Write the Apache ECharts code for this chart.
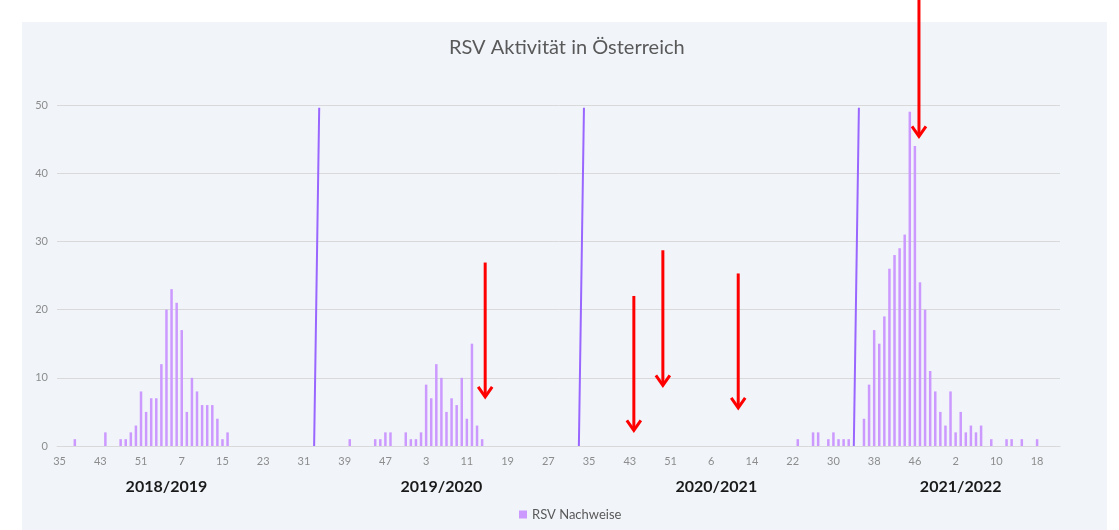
<!DOCTYPE html>
<html>
<head>
<meta charset="utf-8">
<title>RSV Aktivität in Österreich</title>
<script src="https://cdn.jsdelivr.net/npm/echarts@6/dist/echarts.min.js"></script>
<style>
  html, body { margin: 0; padding: 0; background: #fff; }
  #chart { width: 1119px; height: 530px; }
</style>
</head>
<body>
<div id="chart"></div>
<script>
// Kalenderwochen je Jahr
const weeks2018 = [35,36,37,38,39,40,41,42,43,44,45,46,47,48,49,50,51,52]
const weeks2019 = [1,2,3,4,5,6,7,8,9,10,11,12,13,14,15,16,17,18,19,20,21,22,23,24,25,26,
  27,28,29,30,31,32,33,34,35,36,37,38,39,40,41,42,43,44,45,46,47,48,49,50,51,52]
const weeks2020 = [1,2,3,4,5,6,7,8,9,10,11,12,13,14,15,16,17,18,19,20,21,22,23,24,25,26,
  27,28,29,30,31,32,33,34,35,36,37,38,39,40,41,42,43,44,45,46,47,48,49,50,51,52,53]
const weeks2021 = [1,2,3,4,5,6,7,8,9,10,11,12,13,14,15,16,17,18,19,20,21,22,23,24,25,26,
  27,28,29,30,31,32,33,34,35,36,37,38,39,40,41,42,43,44,45,46,47,48,49,50,51,52]
const weeks2022 = [1,2,3,4,5,6,7,8,9,10,11,12,13,14,15,16,17,18,19,20,21,22]

// RSV Nachweise pro Woche
const values2018 = [0,0,0,1,0,0,0,0,0,2,0,0,1,1,2,3,8,5]
const values2019 = [7,7,12,20,23,21,17,5,10,8,6,6,6,4,1,2,
  0,0,0,0,0,0,0,0,0,0,0,0,0,0,0,0,0,0,0,0,0,0,0,
  1,0,0,0,0,1,1,2,2,0,0,2,1]
const values2020 = [1,2,9,7,12,10,5,7,6,10,4,15,3,1,
  0,0,0,0,0,0,0,0,0,0,0,0,0,0,0,0,0,0,0,0,0,0,0,0,0,0,0,0,0,0,0,0,0,0,0,0,0,0,0]
const values2021 = [0,0,0,0,0,0,0,0,0,0,0,0,0,0,0,0,0,0,0,0,0,0,
  1,0,0,2,2,0,1,2,1,1,1,0,0,4,9,17,15,19,26,28,29,31,49,44,24,20,11,8,5,3]
const values2022 = [8,2,5,2,3,2,3,0,1,0,0,1,1,0,1,0,0,1,0,0,0,0]

// Saisongrenzen (Linie von 0 nach oben)
const seasonBreaks = [['2019-33', '2019-34'], ['2020-33', '2020-34'], ['2021-34', '2021-35']]
const breakTop = 49.6

const seasons = ['2018/2019', '2019/2020', '2020/2021', '2021/2022']
const seasonCenter = ['2019-4', '2020-6', '2021-7', '2022-3']

// rote Pfeile: Woche, Versatz, von, bis
const arrows = [
  ['2021-46', 0.8, 66, 45.4],
  ['2020-14', 0.6, 26.9, 7.2],
  ['2020-43', 0.8, 22.0, 2.3],
  ['2020-49', 0.5, 28.7, 8.9],
  ['2021-11', 0.3, 25.3, 5.6]
]

const years = [[2018, weeks2018], [2019, weeks2019], [2020, weeks2020], [2021, weeks2021], [2022, weeks2022]]
const categories = []
years.forEach(([y, ws]) => ws.forEach(w => categories.push(y + '-' + w)))
const values = [].concat(values2018, values2019, values2020, values2021, values2022)

const breakData = categories.map(c => {
  for (const [a, b] of seasonBreaks) {
    if (c === a) return 0
    if (c === b) return breakTop
  }
  return null
})

const font = 'Lato, "Open Sans", sans-serif'
const chart = echarts.init(document.getElementById('chart'))

chart.setOption({
  animation: false,
  textStyle: { fontFamily: font },
  title: {
    text: 'RSV Aktivität in Österreich',
    left: 444,
    top: 33,
    textStyle: { color: '#595959', fontSize: 20, fontWeight: 'normal', fontFamily: font }
  },
  legend: {
    data: ['RSV Nachweise'],
    left: 514,
    top: 503,
    icon: 'rect',
    itemWidth: 8,
    itemHeight: 8,
    itemGap: 4,
    textStyle: { color: '#595959', fontSize: 13, fontFamily: font }
  },
  grid: { left: 57, right: 59, top: 105, bottom: 84 },
  xAxis: {
    type: 'category',
    data: categories,
    axisTick: { show: false },
    axisLine: { lineStyle: { color: '#d9d9d9' } },
    axisLabel: {
      interval: 7,
      color: '#8c8c8c',
      fontSize: 11,
      margin: 10,
      formatter: v => v.split('-')[1]
    }
  },
  yAxis: {
    type: 'value',
    min: 0,
    max: 50,
    interval: 10,
    axisLine: { show: false },
    axisLabel: { color: '#8c8c8c', fontSize: 11, margin: 9 },
    splitLine: { lineStyle: { color: '#d9d9d9' } }
  },
  series: [
    {
      name: 'RSV Nachweise',
      type: 'bar',
      data: values,
      barWidth: 2.5,
      itemStyle: { color: '#CC99FF' }
    },
    {
      name: 'Saison',
      type: 'line',
      data: breakData,
      symbol: 'none',
      connectNulls: false,
      lineStyle: { color: '#9966FF', width: 2 },
      z: 3
    }
  ]
})

// Hintergrund, Saisonbeschriftung und Pfeile aus Datenkoordinaten
const px = c => chart.convertToPixel({ xAxisIndex: 0 }, categories.indexOf(c))
const py = v => chart.convertToPixel({ yAxisIndex: 0 }, v)
const band = chart.convertToPixel({ xAxisIndex: 0 }, 1) - chart.convertToPixel({ xAxisIndex: 0 }, 0)

const elements = [{
  type: 'rect',
  z: -10,
  silent: true,
  shape: { x: 22, y: 22, width: 1085, height: 508 },
  style: { fill: '#F1F5FA' }
}]

seasons.forEach((s, i) => {
  elements.push({
    type: 'text',
    x: px(seasonCenter[i]),
    y: 487,
    style: {
      text: s,
      fill: '#1a1a1a',
      font: 'bold 16px ' + font,
      align: 'center',
      verticalAlign: 'middle'
    }
  })
})

arrows.forEach(([c, off, from, to]) => {
  const x = px(c) + off * band
  const y1 = py(from)
  const y2 = py(to)
  elements.push({
    type: 'line',
    shape: { x1: x, y1: y1, x2: x, y2: y2 - 2 },
    style: { stroke: '#FF0000', lineWidth: 3 }
  })
  elements.push({
    type: 'polyline',
    shape: { points: [[x - 7, y2 - 10], [x, y2], [x + 7, y2 - 10]] },
    style: { stroke: '#FF0000', lineWidth: 3, fill: null }
  })
})

chart.setOption({ graphic: { elements } })
window.addEventListener('resize', () => chart.resize())
</script>
</body>
</html>
